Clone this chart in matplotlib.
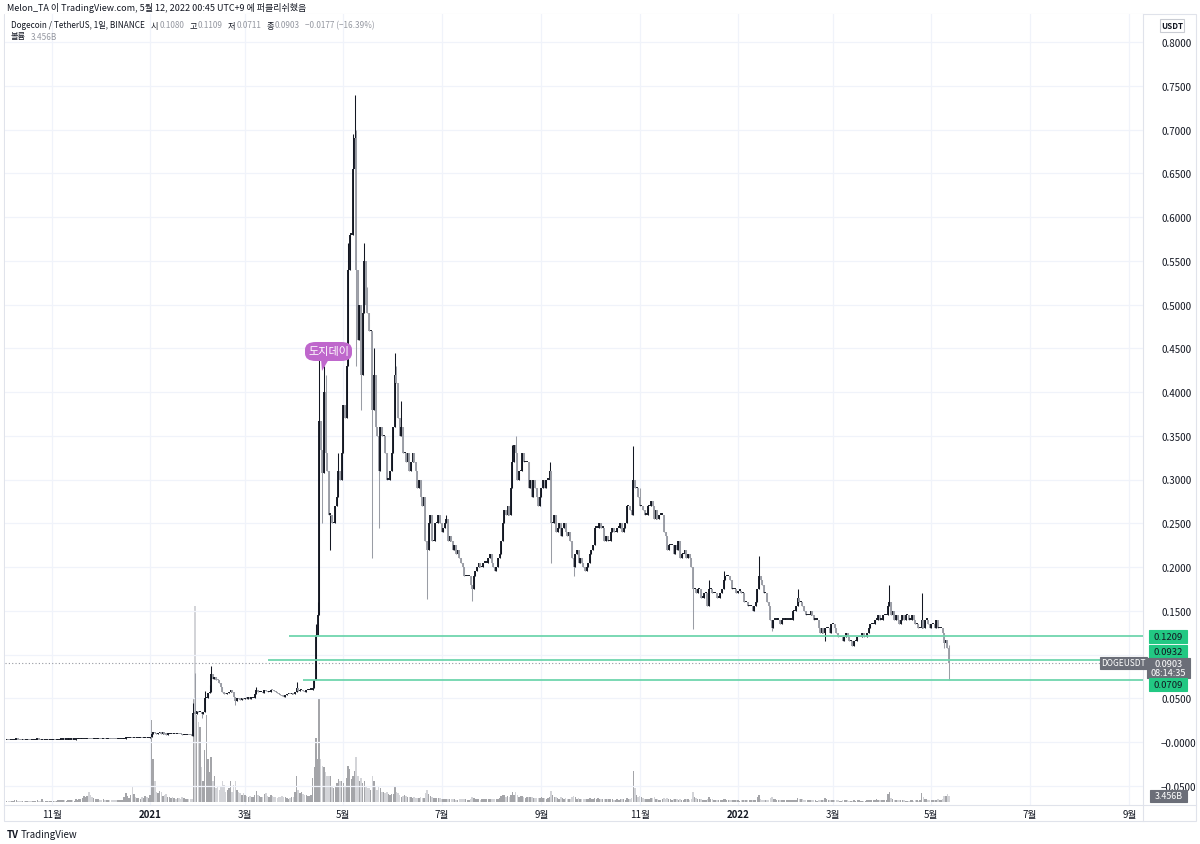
import numpy as np
import matplotlib
matplotlib.use("Agg")
import matplotlib.pyplot as plt
from matplotlib.patches import Rectangle, FancyBboxPatch, Polygon
from matplotlib.lines import Line2D

plt.rcParams['font.family'] = ['Noto Sans CJK KR', 'DejaVu Sans']

# ---------------- data (daily closes, DOGE/USDT) ----------------
START_2020_10 = "2020-10-04"
CLOSE_2020_10 = [0.00256,0.00255,0.00252,0.00254,0.00256,0.00264,0.00268,0.00266,0.00262,0.00259,
                 0.00263,0.00261,0.00262,0.00264,0.00262,0.00255,0.00257,0.00262,0.00264,0.00268,
                 0.00265,0.00258,0.00259,0.00255,0.00258,0.00259,0.00258,0.00259]
CLOSE_2020_11 = [0.00260,0.00262,0.00257,0.00260,0.00262,0.00266,0.00270,0.00275,0.00268,0.00270,
                 0.00273,0.00278,0.00280,0.00278,0.00279,0.00290,0.00295,0.00303,0.00310,0.00325,
                 0.00340,0.00345,0.00360,0.00355,0.00330,0.00310,0.00325,0.00330,0.00338,0.00340]
CLOSE_2020_12 = [0.00335,0.00330,0.00340,0.00330,0.00340,0.00345,0.00340,0.00335,0.00330,0.00328,
                 0.00325,0.00335,0.00345,0.00345,0.00350,0.00385,0.00430,0.00440,0.00440,0.00460,
                 0.00440,0.00440,0.00420,0.00440,0.00450,0.00460,0.00440,0.00460,0.00490,0.00470,
                 0.00470]
CLOSE_2021_01 = [0.00570,0.00960,0.01000,0.00990,0.00940,0.00980,0.01070,0.00960,0.00980,0.00950,
                 0.00850,0.00860,0.00870,0.00950,0.00930,0.00950,0.00920,0.00930,0.00890,0.00880,
                 0.00770,0.00820,0.00830,0.00850,0.00810,0.00800,0.00740,0.03360,0.03250,0.03550,
                 0.03400]
CLOSE_2021_02 = [0.03430,0.03150,0.03450,0.05020,0.05030,0.05630,0.05730,0.07820,0.07180,0.07380,
                 0.07080,0.07060,0.06770,0.06280,0.05730,0.05460,0.05430,0.05560,0.05750,0.05900,
                 0.05680,0.05180,0.04740,0.05020,0.04870,0.04850,0.05000,0.04910]
CLOSE_2021_03 = [0.05070,0.04970,0.05100,0.04970,0.05000,0.05050,0.05500,0.06000,0.05700,0.05700,
                 0.05750,0.05600,0.06000,0.05850,0.05700,0.05750,0.06000,0.05900,0.05800,0.05700,
                 0.05600,0.05450,0.05400,0.05250,0.05200,0.05400,0.05500,0.05500,0.05450,0.05600,
                 0.05450]
CLOSE_2021_04 = [0.05750,0.06200,0.05800,0.05950,0.06000,0.05800,0.05700,0.05900,0.05900,0.06000,
                 0.06000,0.06200,0.07100,0.12200,0.14500,0.36700,0.33400,0.30800,0.40000,0.33000,
                 0.31000,0.26000,0.26000,0.25000,0.25000,0.27000,0.28000,0.31000,0.30000,0.33000]
CLOSE_2021_05 = [0.38500,0.37000,0.43000,0.54000,0.58000,0.58000,0.65500,0.69000,0.54000,0.46000,
                 0.50000,0.42000,0.49000,0.55000,0.50000,0.49000,0.47000,0.47000,0.38000,0.42000,
                 0.36000,0.35000,0.31000,0.36000,0.35000,0.35000,0.33000,0.30000,0.30000,0.31000,
                 0.33000]
CLOSE_2021_06 = [0.36000,0.42000,0.41000,0.37000,0.35000,0.36000,0.33000,0.33000,0.32000,0.33000,
                 0.31000,0.32000,0.33000,0.32000,0.31000,0.29000,0.30000,0.28000,0.27000,0.28000,
                 0.23000,0.22000,0.25000,0.26000,0.23000,0.23000,0.25000,0.25000,0.26000,0.25000]
CLOSE_2021_07 = [0.24000,0.24500,0.25000,0.25500,0.23000,0.23500,0.23000,0.22000,0.22500,0.21500,
                 0.22000,0.21000,0.20500,0.20000,0.19000,0.19000,0.19000,0.19000,0.18000,0.17500,
                 0.19000,0.19500,0.20000,0.20500,0.20000,0.20000,0.20500,0.20500,0.20500,0.21000,
                 0.21500]
CLOSE_2021_08 = [0.20500,0.20000,0.19500,0.20000,0.21000,0.21500,0.23000,0.25000,0.26500,0.26000,
                 0.27000,0.26000,0.29000,0.32000,0.34000,0.33000,0.30000,0.31000,0.31000,0.33000,
                 0.32000,0.32000,0.32000,0.29000,0.30000,0.28000,0.30000,0.29000,0.28000,0.27000,
                 0.28000]
CLOSE_2021_09 = [0.29000,0.30000,0.29000,0.30000,0.30000,0.31000,0.25000,0.25000,0.26000,0.24000,
                 0.24500,0.25000,0.23500,0.24500,0.25000,0.24000,0.23500,0.24000,0.23000,0.21000,
                 0.20000,0.21500,0.22000,0.20500,0.21000,0.20500,0.20000,0.19500,0.20000,0.20500]
CLOSE_2021_10 = [0.21500,0.22000,0.22500,0.24500,0.24500,0.24500,0.25000,0.24500,0.24500,0.23000,
                 0.23500,0.23000,0.23000,0.24000,0.24500,0.24000,0.24000,0.24500,0.24500,0.25000,
                 0.24000,0.24500,0.25000,0.27000,0.27000,0.26500,0.26000,0.30000,0.29000,0.29000,
                 0.28000]
CLOSE_2021_11 = [0.27000,0.27000,0.26500,0.26000,0.26000,0.27000,0.27000,0.27500,0.27000,0.25500,
                 0.26500,0.25500,0.26000,0.26000,0.26000,0.24000,0.23500,0.22000,0.22500,0.22500,
                 0.22500,0.21500,0.22500,0.22000,0.23000,0.21000,0.21500,0.21500,0.22000,0.21000]
CLOSE_2021_12 = [0.21500,0.21000,0.20000,0.17500,0.17500,0.17000,0.17500,0.17500,0.16500,0.16500,
                 0.17000,0.17000,0.15500,0.17500,0.17500,0.17000,0.17000,0.17000,0.16500,0.16500,
                 0.17000,0.17500,0.18500,0.19000,0.19000,0.19000,0.18500,0.17500,0.17500,0.17500,
                 0.17000]
CLOSE_2022_01 = [0.17300,0.17300,0.17000,0.17000,0.16000,0.16000,0.15500,0.15500,0.15500,0.15000,
                 0.15500,0.16000,0.17500,0.19000,0.18500,0.18000,0.17000,0.17000,0.16000,0.15500,
                 0.14000,0.13000,0.14000,0.14000,0.14000,0.14000,0.13500,0.14000,0.14000,0.14000,
                 0.14000]
CLOSE_2022_02 = [0.14000,0.14000,0.14000,0.15000,0.15000,0.15500,0.16500,0.16000,0.16000,0.15500,
                 0.15000,0.14500,0.14500,0.14500,0.15000,0.14500,0.14000,0.14000,0.14000,0.13000,
                 0.12500,0.13000,0.12500,0.13000,0.13000,0.13000,0.12500,0.13500]
CLOSE_2022_03 = [0.13500,0.13000,0.12500,0.12000,0.12000,0.12000,0.11500,0.12000,0.12500,0.12000,
                 0.11500,0.11500,0.11000,0.11500,0.11500,0.12000,0.12000,0.12000,0.12500,0.12000,
                 0.12000,0.12500,0.13000,0.13500,0.13500,0.13500,0.14000,0.14000,0.14500,0.14000,
                 0.14000]
CLOSE_2022_04 = [0.14500,0.14500,0.14500,0.15500,0.16000,0.14500,0.15000,0.14000,0.14500,0.14000,
                 0.13500,0.14000,0.14500,0.14000,0.14500,0.14500,0.14000,0.14000,0.14500,0.14000,
                 0.13500,0.13500,0.13000,0.13000,0.14000,0.13000,0.14000,0.14000,0.13500,0.13000]
CLOSE_2022_05 = [0.13500,0.13500,0.13000,0.14000,0.13000,0.13000,0.13000,0.12500,0.11300,0.11650,
                 0.10800,0.09030]

# daily volume, billions DOGE
VOL_2020_10 = [0.6,0.5,0.5,0.6,0.7,0.9,1.2,0.8,0.6,0.5,0.7,0.6,0.5,0.6,0.7,0.6,0.5,0.7,0.8,1.0,
               0.8,0.6,1.7,0.6,0.5,0.6,0.7,0.6]
VOL_2020_11 = [0.7,0.8,0.7,0.8,0.9,1.2,1.0,1.1,0.9,0.8,0.9,1.0,1.1,0.9,0.8,1.6,1.4,1.7,1.8,2.5,
               3.2,2.6,3.5,5.5,3.8,2.9,2.2,1.8,1.6,1.5]
VOL_2020_12 = [1.4,1.3,1.5,1.2,1.1,1.0,1.0,0.9,1.1,1.0,0.9,1.0,1.1,1.0,1.2,3.0,5.0,3.4,2.4,3.8,
               9.5,4.5,3.0,2.5,2.2,2.0,2.8,2.4,3.4,2.6,2.2]
VOL_2021_01 = [4.0,47.0,25.0,12.0,6.0,5.0,6.5,5.5,3.5,3.8,4.5,3.0,2.8,2.5,2.6,2.2,2.0,2.3,2.1,1.9,
               2.6,2.4,2.0,1.8,1.9,1.7,2.0,60.0,113.0,50.0,46.0]
VOL_2021_02 = [43.0,20.0,12.0,30.0,50.0,25.0,17.0,26.0,12.0,15.0,8.0,9.0,7.0,9.0,12.0,10.0,6.0,7.0,8.0,12.0,
               6.0,10.0,12.0,7.0,6.0,5.0,4.0,5.0]
VOL_2021_03 = [4.0,3.5,3.0,3.2,3.0,2.8,4.0,6.5,4.0,3.5,3.0,2.8,4.5,5.0,3.5,3.0,4.0,3.2,2.8,2.6,
               2.5,2.8,3.0,3.2,3.0,2.6,2.2,2.0,2.4,2.6,3.0]
VOL_2021_04 = [6.0,15.0,7.0,5.0,5.5,4.5,4.0,3.8,3.5,3.6,4.0,14.0,20.0,37.0,25.0,60.0,25.0,21.0,20.0,17.0,
               15.0,15.0,15.0,9.0,8.0,9.0,11.0,13.0,12.0,12.0]
VOL_2021_05 = [11.0,9.0,14.0,21.0,19.0,13.0,15.0,18.0,26.0,15.0,12.0,14.0,11.0,12.0,9.0,8.0,8.0,7.0,15.0,12.0,
               9.0,7.0,9.0,8.0,6.0,5.5,5.0,6.0,4.5,4.0,4.5]
VOL_2021_06 = [4.5,9.0,6.0,5.0,4.0,3.0,3.5,4.0,3.5,3.0,3.0,2.6,2.5,2.8,2.4,2.5,2.3,2.6,2.2,2.4,
               5.0,7.0,4.5,3.5,3.0,2.5,2.2,2.4,2.5,2.2]
VOL_2021_07 = [2.0,1.8,1.6,1.8,2.0,1.9,1.6,1.8,1.5,1.4,1.3,1.5,1.6,1.7,1.8,1.6,1.4,1.3,1.8,2.6,
               2.4,1.9,1.6,1.5,1.4,1.6,1.8,1.7,1.5,1.6,1.8]
VOL_2021_08 = [1.6,1.8,1.9,1.8,2.0,2.2,3.5,3.8,4.0,3.0,3.2,3.0,4.0,5.5,4.2,6.0,4.0,3.0,3.2,3.5,
               3.0,2.5,2.8,3.0,2.8,2.6,2.4,2.2,2.3,2.4,2.2]
VOL_2021_09 = [2.6,2.4,2.2,2.0,2.2,2.8,6.5,4.0,3.0,2.8,2.4,2.0,2.6,2.2,2.0,2.2,1.9,1.7,1.6,3.0,
               3.2,2.6,2.0,2.4,1.8,1.6,1.8,1.9,1.8,1.9]
VOL_2021_10 = [2.2,1.8,1.6,2.4,2.0,2.2,1.9,1.6,1.5,1.6,1.8,1.7,1.6,1.5,1.6,1.4,1.3,1.5,1.4,1.6,
               1.6,1.5,1.4,2.5,2.0,1.8,2.2,18.0,8.0,4.0,3.0]
VOL_2021_11 = [3.5,2.6,2.2,2.0,1.8,2.0,1.6,2.4,2.2,2.8,2.0,1.8,1.4,1.3,1.5,2.2,1.9,2.4,1.8,1.5,
               1.3,1.6,1.7,1.5,1.4,1.8,1.3,1.2,1.5,1.6]
VOL_2021_12 = [1.5,1.4,1.8,5.5,3.0,2.2,1.8,1.6,1.5,1.4,1.3,1.2,1.6,2.8,2.0,1.5,1.2,1.1,1.0,1.2,
               1.3,1.4,1.8,1.6,1.2,1.0,1.2,1.3,1.1,1.0,0.9]
VOL_2022_01 = [0.9,0.8,1.0,1.1,1.4,1.3,1.2,1.0,0.9,1.1,1.0,1.2,2.8,3.8,1.8,1.4,1.2,1.1,1.2,1.3,
               2.2,2.6,1.6,1.8,1.3,1.4,1.2,1.1,0.9,0.9,1.0]
VOL_2022_02 = [1.1,1.0,0.9,1.2,1.1,1.3,2.4,2.0,1.5,1.6,1.3,1.0,0.9,1.0,1.1,0.9,1.0,0.9,0.8,1.0,
               1.2,1.1,1.0,2.2,1.8,1.0,0.9,1.3]
VOL_2022_03 = [1.2,1.1,1.0,1.1,0.8,0.7,1.0,1.1,1.0,0.9,0.8,0.7,0.8,0.9,0.8,1.1,0.9,0.8,0.8,0.7,
               0.8,0.9,1.1,1.2,1.0,0.9,1.1,1.5,1.4,1.2,1.1]
VOL_2022_04 = [1.3,1.0,0.9,4.5,5.5,2.2,1.8,1.4,1.0,0.9,1.2,1.0,1.0,0.9,0.8,0.7,0.8,1.0,0.9,0.8,
               0.9,1.0,0.8,1.0,5.0,3.0,2.0,1.6,1.4,1.2]
VOL_2022_05 = [1.1,1.2,1.0,1.4,1.6,1.2,1.1,1.6,3.2,3.4,4.5,3.456]

HIGH_WICKS = {
    '2021-01-02': 0.0115, '2021-01-28': 0.045, '2021-01-29': 0.0788, '2021-02-04': 0.058,
    '2021-02-07': 0.065, '2021-02-08': 0.087, '2021-03-08': 0.063, '2021-04-02': 0.069,
    '2021-04-14': 0.135, '2021-04-15': 0.16, '2021-04-16': 0.445, '2021-04-19': 0.43,
    '2021-04-20': 0.42, '2021-04-28': 0.33, '2021-05-04': 0.57, '2021-05-07': 0.695,
    '2021-05-08': 0.739, '2021-05-09': 0.70, '2021-05-14': 0.57, '2021-05-16': 0.52,
    '2021-05-20': 0.45, '2021-06-02': 0.445, '2021-06-03': 0.43, '2021-06-06': 0.39,
    '2021-07-04': 0.26, '2021-08-14': 0.34, '2021-08-16': 0.35, '2021-09-06': 0.32,
    '2021-10-28': 0.338, '2021-11-01': 0.29, '2021-12-14': 0.185, '2021-12-23': 0.195,
    '2022-01-14': 0.213, '2022-02-07': 0.175, '2022-04-05': 0.179, '2022-04-25': 0.170,
    '2022-05-12': 0.1109}
LOW_WICKS = {
    '2021-01-28': 0.0073, '2021-02-02': 0.028, '2021-02-23': 0.042, '2021-04-18': 0.25,
    '2021-04-23': 0.22, '2021-05-09': 0.43, '2021-05-12': 0.38, '2021-05-19': 0.21,
    '2021-05-23': 0.245, '2021-06-22': 0.163, '2021-07-20': 0.161, '2021-09-07': 0.205,
    '2021-09-21': 0.19, '2021-12-04': 0.129, '2022-01-22': 0.127, '2022-02-24': 0.115,
    '2022-03-13': 0.11, '2022-05-09': 0.108, '2022-05-12': 0.0711}

LEVELS = [0.1209, 0.0932, 0.0709]
LEVEL_STARTS = ['2021-03-28', '2021-03-15', '2021-04-06']
LAST_PRICE = 0.0903
TICK_MONTHS = ['2020-11-01', '2021-01-01', '2021-03-01', '2021-05-01', '2021-07-01', '2021-09-01',
               '2021-11-01', '2022-01-01', '2022-03-01', '2022-05-01', '2022-07-01', '2022-09-01']
TICK_LABELS = ['11월', '2021', '3월', '5월', '7월', '9월', '11월', '2022', '3월', '5월', '7월', '9월']
PRICE_TICKS = [-0.05, 0.0, 0.05, 0.10, 0.15, 0.20, 0.25, 0.30, 0.35, 0.40, 0.45, 0.50, 0.55,
               0.60, 0.65, 0.70, 0.75, 0.80]
HIDDEN_TICKS = [0.10]   # covered by the price labels on the scale

# ---------------- assemble ----------------
SEGMENTS = [(START_2020_10, CLOSE_2020_10, VOL_2020_10), ('2020-11-01', CLOSE_2020_11, VOL_2020_11),
            ('2020-12-01', CLOSE_2020_12, VOL_2020_12), ('2021-01-01', CLOSE_2021_01, VOL_2021_01),
            ('2021-02-01', CLOSE_2021_02, VOL_2021_02), ('2021-03-01', CLOSE_2021_03, VOL_2021_03),
            ('2021-04-01', CLOSE_2021_04, VOL_2021_04), ('2021-05-01', CLOSE_2021_05, VOL_2021_05),
            ('2021-06-01', CLOSE_2021_06, VOL_2021_06), ('2021-07-01', CLOSE_2021_07, VOL_2021_07),
            ('2021-08-01', CLOSE_2021_08, VOL_2021_08), ('2021-09-01', CLOSE_2021_09, VOL_2021_09),
            ('2021-10-01', CLOSE_2021_10, VOL_2021_10), ('2021-11-01', CLOSE_2021_11, VOL_2021_11),
            ('2021-12-01', CLOSE_2021_12, VOL_2021_12), ('2022-01-01', CLOSE_2022_01, VOL_2022_01),
            ('2022-02-01', CLOSE_2022_02, VOL_2022_02), ('2022-03-01', CLOSE_2022_03, VOL_2022_03),
            ('2022-04-01', CLOSE_2022_04, VOL_2022_04), ('2022-05-01', CLOSE_2022_05, VOL_2022_05)]

EPOCH = np.datetime64('2021-01-01')
def dnum(s):
    return int((np.datetime64(s) - EPOCH).astype(int))

xs, closes, vols = [], [], []
for start, c, v in SEGMENTS:
    d0 = dnum(start)
    xs += list(d0 + np.arange(len(c)))
    closes += c
    vols += v
xs = np.array(xs, float)
close = np.array(closes)
vol = np.array(vols)
opn = np.r_[close[0], close[:-1]]
high = np.maximum(opn, close)
low = np.minimum(opn, close)
idx = {int(d): i for i, d in enumerate(xs)}
for k, v in HIGH_WICKS.items():
    i = idx[dnum(k)]
    high[i] = max(high[i], v)
for k, v in LOW_WICKS.items():
    i = idx[dnum(k)]
    low[i] = min(low[i], v)
up = close >= opn

# ---------------- layout ----------------
W, H = 1200, 845
fig = plt.figure(figsize=(12, 8.45), dpi=100)
fig.patch.set_facecolor('white')
def fx(x): return x / W
def fy(y): return 1 - y / H

PANE_L, PANE_R, PANE_T, PANE_B = 5, 1143, 15, 806
X0, PXD = 150.0, 1.611      # pixel of 2021-01-01, px per day
Y0, PXU = 743.0, 875.0      # pixel of price 0, px per unit
rect = [fx(PANE_L), fy(PANE_B), (PANE_R - PANE_L) / W, (PANE_B - PANE_T) / H]
axv = fig.add_axes(rect)
ax = fig.add_axes(rect)
axv.set_zorder(1)
ax.set_zorder(2)
ax.patch.set_visible(False)

xlim = ((PANE_L - X0) / PXD, (PANE_R - X0) / PXD)
ax.set_xlim(*xlim)
axv.set_xlim(*xlim)
ax.set_ylim((Y0 - PANE_B) / PXU, (Y0 - PANE_T) / PXU)
VPX = 0.576  # billions per pixel
axv.set_ylim(-3 * VPX, (PANE_B - PANE_T - 3) * VPX)

for a in (ax, axv):
    for s in a.spines.values():
        s.set_visible(False)
axv.set_xticks([]); axv.set_yticks([])

# grid
tick_x = [dnum(t) for t in TICK_MONTHS]
for t in tick_x:
    axv.axvline(t, color='#f0f3fa', lw=0.9, zorder=0)
for p in PRICE_TICKS:
    ax.axhline(p, color='#f0f3fa', lw=0.9, zorder=0)

# volume
UP_C, DN_C = '#131722', '#9a9da5'
VUP_C, VDN_C = '#a4a5a9', '#d3d4d8'
axv.bar(xs, vol, width=0.9, color=np.where(up, VUP_C, VDN_C), linewidth=0, zorder=2)

# candles
cols = np.where(up, UP_C, DN_C)
ax.vlines(xs, low, high, colors=cols, lw=0.75, zorder=3)
MINB = 1.2 / PXU
b0 = np.minimum(opn, close)
b1 = np.maximum(np.maximum(opn, close), b0 + MINB)
ax.vlines(xs, b0, b1, colors=cols, lw=1.35, zorder=4)

# levels
for lv, st in zip(LEVELS, LEVEL_STARTS):
    ax.hlines(lv, dnum(st), xlim[1], color='#6fd5ae', lw=1.3, zorder=5)
ax.axhline(LAST_PRICE, color='#9598a1', lw=0.8, ls=(0, (1, 2)), zorder=1)

# axes ticks
def plabel(p):
    if any(abs(p - h) < 1e-9 for h in HIDDEN_TICKS):
        return ''
    if abs(p) < 1e-9:
        return '\u22120.0000'
    return ('\u2212%.4f' % -p) if p < 0 else ('%.4f' % p)
ax.yaxis.tick_right()
ax.set_yticks(PRICE_TICKS)
ax.set_yticklabels([plabel(p) for p in PRICE_TICKS])
ax.tick_params(axis='y', length=0, pad=13, labelsize=7, labelcolor='#131722')
ax.set_xticks(tick_x)
ax.set_xticklabels(TICK_LABELS)
ax.tick_params(axis='x', length=0, pad=3, labelsize=7, labelcolor='#131722')
for lab in ax.get_xticklabels():
    if lab.get_text().startswith('20'):
        lab.set_fontweight('bold')

# frame lines
fig.add_artist(Rectangle((fx(4), fy(822)), fx(1196) - fx(4), fy(15) - fy(822), transform=fig.transFigure,
                         fill=False, edgecolor='#e0e3eb', lw=0.8))
fig.add_artist(Line2D([fx(PANE_R), fx(PANE_R)], [fy(15), fy(822)], transform=fig.transFigure,
                      color='#e0e3eb', lw=0.8))
fig.add_artist(Line2D([fx(4), fx(1196)], [fy(PANE_B), fy(PANE_B)], transform=fig.transFigure,
                      color='#e0e3eb', lw=0.8))

def box(x0, y0, x1, y1, fc, text, tc='white', fs=6.8, ec=None, bold=False, ls=1.0):
    fig.add_artist(Rectangle((fx(x0), fy(y1)), fx(x1) - fx(x0), fy(y0) - fy(y1), transform=fig.transFigure,
                             facecolor=fc, edgecolor=ec if ec else fc, lw=0.8, zorder=10))
    fig.text(fx((x0 + x1) / 2), fy((y0 + y1) / 2), text, ha='center', va='center', color=tc,
             fontsize=fs, zorder=11, fontweight='bold' if bold else 'normal', linespacing=ls)

GREEN = '#22c883'
box(1149, 631, 1187, 644, GREEN, '0.1209', tc='#131722')
box(1149, 646, 1187, 659, GREEN, '0.0932', tc='#131722')
box(1147, 659, 1190, 679, '#6b6e78', '0.0903\n08:14:35', fs=6.6, ls=1.05)
box(1100, 658, 1147, 670, '#6b6e78', 'DOGEUSDT', fs=6.0)
box(1149, 679, 1187, 692, GREEN, '0.0709', tc='#131722')
box(1150, 791, 1187, 803, '#6b6e78', '3.456B', fs=6.4)
box(1160, 20, 1184, 33, 'white', 'USDT', tc='#131722', fs=5.8, ec='#c9ccd3', bold=True)

# annotation
ann = FancyBboxPatch((fx(305), fy(362)), fx(352) - fx(305), fy(343) - fy(362),
                     boxstyle='round,pad=0.0,rounding_size=0.009', transform=fig.transFigure,
                     facecolor='#bf67cc', edgecolor='none', zorder=12)
fig.add_artist(ann)
fig.add_artist(Polygon([[fx(321), fy(360)], [fx(329), fy(360)], [fx(322), fy(372)]], closed=True,
                       transform=fig.transFigure, facecolor='#bf67cc', edgecolor='none', zorder=12))
fig.text(fx(328.5), fy(352.5), '도지데이', ha='center', va='center', color='white', fontsize=8, zorder=13)

# header
TXT = '#131722'
VAL = '#9598a1'
fig.text(fx(7), fy(8), 'Melon_TA 이 TradingView.com, 5월 12, 2022 00:45 UTC+9 에 퍼블리쉬했음',
         fontsize=6.5, color=TXT, va='center')
renderer = fig.canvas.get_renderer()
row = [('Dogecoin / TetherUS, 1일, BINANCE', TXT, 6), ('시', TXT, 1), ('0.1080', VAL, 5),
       ('고', TXT, 1), ('0.1109', VAL, 5), ('저', TXT, 1), ('0.0711', VAL, 5),
       ('종', TXT, 1), ('0.0903', VAL, 5), ('\u22120.0177 (\u221216.39%)', VAL, 0)]
cx = 11.0
for s, c, gap in row:
    t = fig.text(fx(cx), fy(26), s, fontsize=5.9, color=c, va='center')
    cx += t.get_window_extent(renderer).width + gap
t = fig.text(fx(11), fy(37), '볼륨', fontsize=5.9, color=TXT, va='center')
fig.text(fx(11 + t.get_window_extent(renderer).width + 5), fy(37), '3.456B', fontsize=5.9, color=VAL, va='center')

# footer logo
fig.text(fx(7), fy(835), 'TV', fontsize=7, fontweight='bold', color=TXT, va='center')
fig.text(fx(21), fy(835), 'TradingView', fontsize=7, color=TXT, va='center')

fig.savefig('out.png', dpi=100, facecolor='white')
